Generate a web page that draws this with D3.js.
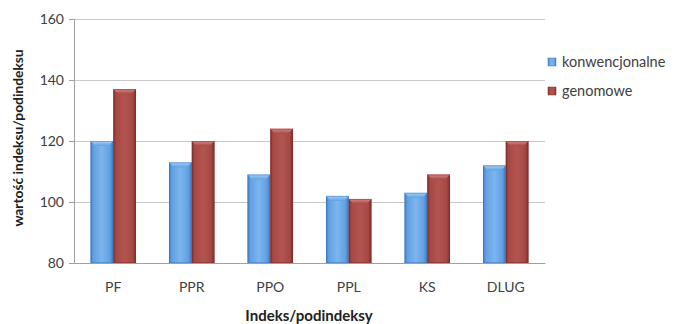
<!DOCTYPE html>
<html>
<head>
<meta charset="utf-8">
<script src="https://cdnjs.cloudflare.com/ajax/libs/d3/7.8.5/d3.min.js"></script>
<style>
  html, body { margin: 0; padding: 0; background: #fff; }
  svg { display: block; font-family: Lato, "Open Sans", sans-serif; }
</style>
</head>
<body>
<svg id="chart" width="681" height="324"></svg>
<script>
const categories = ["PF", "PPR", "PPO", "PPL", "KS", "DLUG"];
const konwencjonalne = [120, 113, 109, 102, 103, 112];
const genomowe = [137, 120, 124, 101, 109, 120];
const seriesNames = ["konwencjonalne", "genomowe"];
const yTicks = [80, 100, 120, 140, 160];

const svg = d3.select("#chart");
const margin = { left: 74, right: 136, top: 19, bottom: 61 };
const W = 681, H = 324;
const innerW = W - margin.left - margin.right;
const innerH = H - margin.top - margin.bottom;

const x = d3.scaleBand().domain(categories).range([margin.left, margin.left + innerW]).paddingInner(0.42).paddingOuter(0.21);
const sub = d3.scaleBand().domain(seriesNames).range([0, x.bandwidth()]);
const y = d3.scaleLinear().domain([80, 160]).range([margin.top + innerH, margin.top]);

// gradients for the bevelled bars
const defs = svg.append("defs");
const palettes = {
  konwencjonalne: { dark: "#3d78bd", mid: "#60a0e2", light: "#7db5ee", top: "#a9d2f7" },
  genomowe: { dark: "#7e2e2c", mid: "#a64844", light: "#b3544f", top: "#d98a86" }
};
seriesNames.forEach((s, i) => {
  const p = palettes[s];
  const g = defs.append("linearGradient").attr("id", "g" + i).attr("x1", 0).attr("x2", 1).attr("y1", 0).attr("y2", 0);
  g.append("stop").attr("offset", "0%").attr("stop-color", p.dark);
  g.append("stop").attr("offset", "12%").attr("stop-color", p.mid);
  g.append("stop").attr("offset", "50%").attr("stop-color", p.light);
  g.append("stop").attr("offset", "85%").attr("stop-color", p.mid);
  g.append("stop").attr("offset", "100%").attr("stop-color", p.dark);
  const t = defs.append("linearGradient").attr("id", "t" + i).attr("x1", 0).attr("x2", 0).attr("y1", 0).attr("y2", 1);
  t.append("stop").attr("offset", "0%").attr("stop-color", p.top);
  t.append("stop").attr("offset", "100%").attr("stop-color", p.mid);
});

// gridlines
svg.append("g").selectAll("line").data(yTicks.slice(1)).join("line")
  .attr("x1", margin.left).attr("x2", margin.left + innerW)
  .attr("y1", d => y(d)).attr("y2", d => y(d))
  .attr("stroke", "#c8c8c8").attr("stroke-width", 1).attr("shape-rendering", "crispEdges");

// y axis
const yAxis = svg.append("g").attr("transform", `translate(${margin.left},0)`)
  .call(d3.axisLeft(y).tickValues(yTicks).tickSize(5).tickPadding(5).tickFormat(d3.format("d")));
yAxis.select(".domain").attr("stroke", "#a0a0a0");
yAxis.selectAll(".tick line").attr("stroke", "#a0a0a0");
yAxis.selectAll("text").attr("font-size", 14).attr("fill", "#404040").attr("font-family", "Lato, sans-serif");

// bars
const data = [];
categories.forEach((c, i) => {
  data.push({ c, s: "konwencjonalne", v: konwencjonalne[i], k: 0 });
  data.push({ c, s: "genomowe", v: genomowe[i], k: 1 });
});
const bars = svg.append("g").selectAll("g").data(data).join("g")
  .attr("transform", d => `translate(${x(d.c) + sub(d.s)},0)`);
bars.append("rect")
  .attr("x", 0).attr("width", sub.bandwidth())
  .attr("y", d => y(d.v)).attr("height", d => y(80) - y(d.v))
  .attr("fill", d => `url(#g${d.k})`);
// top bevel
bars.append("path")
  .attr("d", d => {
    const w = sub.bandwidth(), t = y(d.v), b = 5;
    return `M0,${t}L${w},${t}L${w - b},${t + b}L${b},${t + b}Z`;
  })
  .attr("fill", d => `url(#t${d.k})`);
bars.append("rect")
  .attr("x", 0.5).attr("width", sub.bandwidth() - 1)
  .attr("y", d => y(d.v) + 0.5).attr("height", d => y(80) - y(d.v) - 1)
  .attr("fill", "none").attr("stroke", d => palettes[d.s].dark).attr("stroke-opacity", 0.5);

// x axis
const xAxis = svg.append("g").attr("transform", `translate(0,${margin.top + innerH})`)
  .call(d3.axisBottom(x).tickSize(0).tickPadding(19));
xAxis.select(".domain").attr("stroke", "#a0a0a0");
xAxis.selectAll("text").attr("font-size", 14).attr("fill", "#404040").attr("font-family", "Lato, sans-serif");

// axis titles
svg.append("text").attr("x", 309).attr("y", 321).attr("text-anchor", "middle")
  .attr("font-size", 15).attr("font-weight", "bold").attr("fill", "#202020")
  .text("Indeks/podindeksy");
svg.append("text").attr("transform", `translate(23,${margin.top + innerH / 2 - 3}) rotate(-90)`)
  .attr("text-anchor", "middle").attr("font-size", 13.8).attr("font-weight", "bold").attr("fill", "#202020")
  .text("wartość indeksu/podindeksu");

// legend
const legend = svg.append("g").selectAll("g").data(seriesNames).join("g")
  .attr("transform", (d, i) => `translate(548,${58 + i * 29})`);
legend.append("rect").attr("width", 8).attr("height", 8).attr("fill", (d, i) => `url(#g${i})`)
  .attr("stroke", d => palettes[d].dark).attr("stroke-width", 0.5);
legend.append("text").attr("x", 14).attr("y", 4).attr("dy", "0.35em")
  .attr("font-size", 14.5).attr("fill", "#404040").text(d => d);
</script>
</body>
</html>
